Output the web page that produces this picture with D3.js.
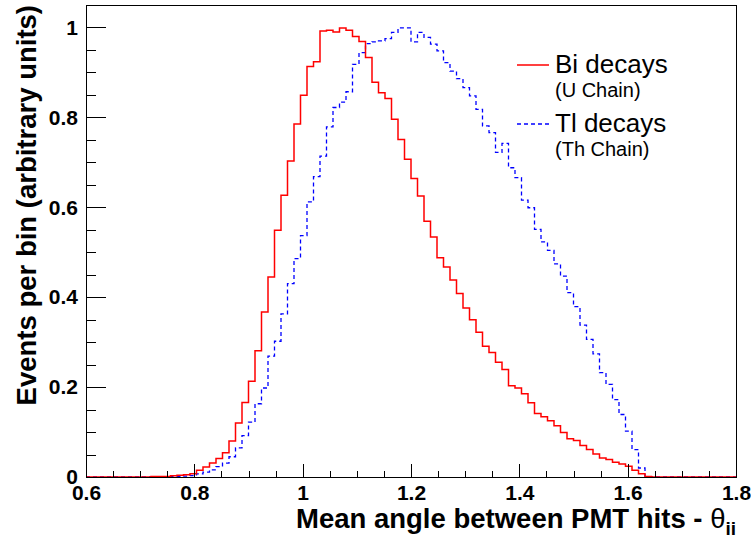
<!DOCTYPE html>
<html>
<head>
<meta charset="utf-8">
<script src="https://d3js.org/d3.v7.min.js"></script>
<style>
  body { margin: 0; background: #fff; }
  text { font-family: "Liberation Sans", Arial, Helvetica, sans-serif; }
  .axis text { font-weight: bold; font-size: 21px; fill: #000; }
  .axis path, .axis line { stroke: #000; stroke-width: 1px; shape-rendering: crispEdges; }
</style>
</head>
<body>
<div id="chart"></div>
<script>

// histogram binning (100 bins from 0.6 to 1.8)
var binLow = 0.6;
var binWidth = 0.012;

// Bi decays (U chain), normalised bin contents
var biValues = [
  0, 0, 0, 0, 0, 0, 0, 0, 0, 0,
  0.001, 0.001, 0.001, 0.003, 0.004, 0.005, 0.007, 0.015, 0.022, 0.031,
  0.041, 0.054, 0.080, 0.120, 0.166, 0.213, 0.281, 0.367, 0.445, 0.549,
  0.627, 0.703, 0.785, 0.849, 0.913, 0.924, 0.992, 0.994, 0.990, 0.999,
  0.994, 0.980, 0.969, 0.933, 0.878, 0.855, 0.842, 0.796, 0.751, 0.707,
  0.664, 0.625, 0.569, 0.534, 0.488, 0.467, 0.438, 0.408, 0.376, 0.350,
  0.322, 0.291, 0.277, 0.255, 0.239, 0.203, 0.198, 0.185, 0.165, 0.141,
  0.134, 0.125, 0.114, 0.099, 0.085, 0.081, 0.070, 0.061, 0.051, 0.042,
  0.039, 0.033, 0.029, 0.024, 0.015, 0.007, 0.001, 0, 0, 0,
  0, 0, 0, 0, 0, 0, 0, 0, 0, 0
];

// Tl decays (Th chain), normalised bin contents
var tlValues = [
  0, 0, 0, 0, 0, 0, 0, 0, 0, 0,
  0, 0, 0, 0.001, 0.001, 0.002, 0.003, 0.007, 0.011, 0.016,
  0.023, 0.031, 0.045, 0.065, 0.092, 0.122, 0.163, 0.198, 0.269, 0.302,
  0.363, 0.430, 0.486, 0.537, 0.612, 0.668, 0.714, 0.779, 0.822, 0.834,
  0.857, 0.918, 0.944, 0.964, 0.968, 0.970, 0.975, 0.989, 0.999, 0.999,
  0.968, 0.989, 0.978, 0.963, 0.948, 0.922, 0.903, 0.886, 0.866, 0.848,
  0.818, 0.781, 0.766, 0.722, 0.742, 0.688, 0.666, 0.616, 0.599, 0.551,
  0.523, 0.504, 0.474, 0.447, 0.410, 0.379, 0.338, 0.306, 0.274, 0.232,
  0.206, 0.172, 0.139, 0.102, 0.061, 0.020, 0, 0, 0, 0,
  0, 0, 0, 0, 0, 0, 0, 0, 0, 0
];

// tick values
var xMajorTicks = [0.6, 0.8, 1.0, 1.2, 1.4, 1.6, 1.8];
var yMajorTicks = [0, 0.2, 0.4, 0.6, 0.8, 1.0];
var minorStep = 0.05;

// legend entries
var legendLabels = ["Bi decays", "Tl decays"];
var legendSubLabels = ["(U Chain)", "(Th Chain)"];

// set the dimensions and margins of the graph
var margin = {top: 5, right: 15, bottom: 65, left: 86},
    width = 736 - margin.left,
    height = 477 - margin.top;

// set the ranges
var x = d3.scaleLinear().domain([0.6, 1.8]).range([0, width]);
var y = d3.scaleLinear().domain([0, 1.05]).range([height, 0]);

var svg = d3.select("#chart").append("svg")
    .attr("width", 751)
    .attr("height", 542)
  .append("g")
    .attr("transform", "translate(" + margin.left + "," + margin.top + ")");

// frame box
svg.append("rect")
    .attr("width", width)
    .attr("height", height)
    .attr("fill", "none")
    .attr("stroke", "#000")
    .attr("stroke-width", 1)
    .attr("shape-rendering", "crispEdges");

svg.append("clipPath").attr("id", "clip")
  .append("rect")
    .attr("width", width)
    .attr("height", height + 1);

// turn bin contents into step points
function binPoints(values) {
  var pts = values.map(function(v, i) { return [binLow + i * binWidth, v]; });
  pts.push([binLow + values.length * binWidth, values[values.length - 1]]);
  return pts;
}

var stepLine = d3.line()
    .x(function(d) { return x(d[0]); })
    .y(function(d) { return y(d[1]); })
    .curve(d3.curveStepAfter);

// Add the Tl histogram (blue, dashed)
svg.append("path")
    .datum(binPoints(tlValues))
    .attr("clip-path", "url(#clip)")
    .attr("fill", "none")
    .attr("stroke", "#0000ff")
    .attr("stroke-width", 1.3)
    .attr("stroke-dasharray", "4,3")
    .attr("d", stepLine);

// Add the Bi histogram (red, solid)
svg.append("path")
    .datum(binPoints(biValues))
    .attr("clip-path", "url(#clip)")
    .attr("fill", "none")
    .attr("stroke", "#ff0000")
    .attr("stroke-width", 1.5)
    .attr("d", stepLine);

var xMinor = d3.range(0.6, 1.8001, minorStep).filter(function(t) {
  return xMajorTicks.every(function(m) { return Math.abs(m - t) > 1e-6; });
});
var yMinor = d3.range(0, 1.0501, minorStep).filter(function(t) {
  return yMajorTicks.every(function(m) { return Math.abs(m - t) > 1e-6; });
});

// Add the X Axis (ticks pointing inward)
svg.append("g")
    .attr("class", "axis")
    .attr("transform", "translate(0," + height + ")")
    .call(d3.axisBottom(x).tickValues(xMinor).tickSize(-6.5).tickFormat(""))
    .call(function(g) { g.select(".domain").remove(); });

svg.append("g")
    .attr("class", "axis")
    .attr("transform", "translate(0," + height + ")")
    .call(d3.axisBottom(x).tickValues(xMajorTicks).tickSize(-13).tickSizeOuter(0)
        .tickPadding(8).tickFormat(d3.format("~g")));

// Add the Y Axis
svg.append("g")
    .attr("class", "axis")
    .call(d3.axisLeft(y).tickValues(yMinor).tickSize(-10).tickFormat(""))
    .call(function(g) { g.select(".domain").remove(); });

svg.append("g")
    .attr("class", "axis")
    .call(d3.axisLeft(y).tickValues(yMajorTicks).tickSize(-20).tickSizeOuter(0)
        .tickPadding(8).tickFormat(d3.format("~g")));

// text label for the x axis
var xTitle = svg.append("text")
    .attr("x", width)
    .attr("y", 523)
    .style("text-anchor", "end")
    .style("font-weight", "bold")
    .style("font-size", "27.5px");
xTitle.append("tspan").text("Mean angle between PMT hits - ");
xTitle.append("tspan").style("font-weight", "normal").text("\u03b8");
xTitle.append("tspan").attr("dy", 7).style("font-size", "19px").text("ii");

// text label for the y axis
svg.append("text")
    .attr("transform", "rotate(-90)")
    .attr("x", 0)
    .attr("y", 36 - margin.left)
    .style("text-anchor", "end")
    .style("font-weight", "bold")
    .style("font-size", "27.5px")
    .text("Events per bin (arbitrary units)");

// legend
var legend = svg.append("g")
    .attr("transform", "translate(" + (517 - margin.left) + "," + (65 - margin.top) + ")");

var legendItem = legend.selectAll("g")
    .data(legendLabels)
  .enter().append("g")
    .attr("transform", function(d, i) { return "translate(0," + (i * 59) + ")"; });

legendItem.append("line")
    .attr("x1", 0)
    .attr("x2", 32)
    .attr("stroke", function(d, i) { return i === 0 ? "#ff0000" : "#0000ff"; })
    .attr("stroke-width", function(d, i) { return i === 0 ? 1.5 : 1.3; })
    .attr("stroke-dasharray", function(d, i) { return i === 0 ? null : "4,3"; });

legendItem.append("text")
    .attr("x", 38)
    .attr("y", 8)
    .style("font-size", "26px")
    .text(function(d) { return d; });

legendItem.append("text")
    .attr("x", 38)
    .attr("y", 32)
    .style("font-size", "20px")
    .text(function(d, i) { return legendSubLabels[i]; });

</script>
</body>
</html>
